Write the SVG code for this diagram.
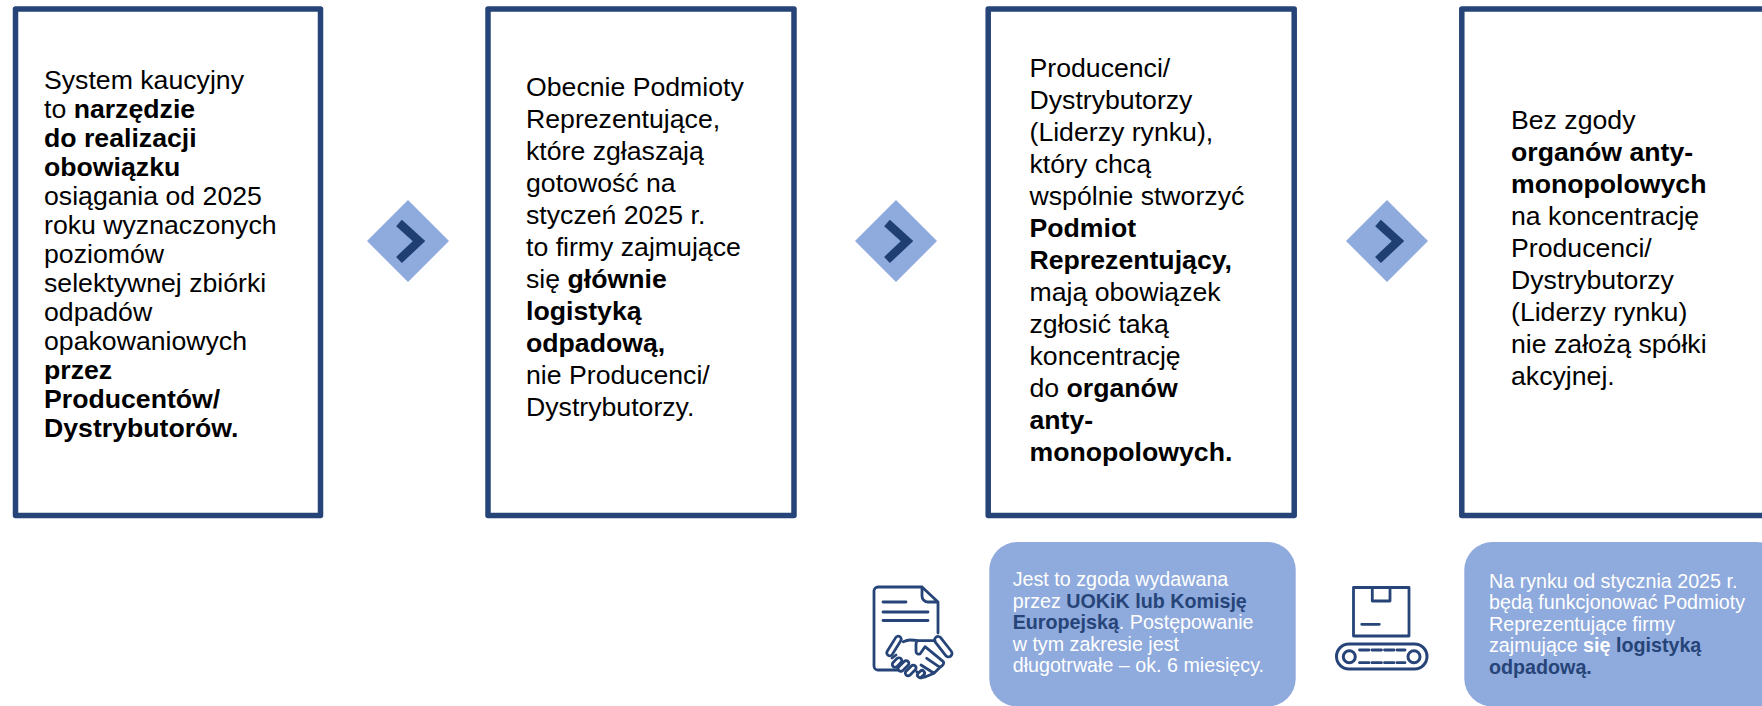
<svg xmlns="http://www.w3.org/2000/svg" width="1762" height="706" viewBox="0 0 1762 706">
<style>
text{font-family:"Liberation Sans",Arial,sans-serif}
.box{fill:#fff;stroke:#264478;stroke-width:5.5;stroke-linejoin:round}
.t{font-size:26.67px;fill:#000}
.b{font-weight:700}
.call{fill:#8faadc}
.c{font-size:19.7px;fill:#fff}
.d{font-weight:700;fill:#264478}
.dia{fill:#8faadc}
.chev{fill:none;stroke:#1f3f73;stroke-width:8.5}
.ic{fill:none;stroke:#264478;stroke-width:2.8;stroke-linecap:round;stroke-linejoin:round}
.icw{fill:#fff;stroke:#264478;stroke-width:2.8;stroke-linecap:round;stroke-linejoin:round}
</style>
<rect width="1762" height="706" fill="#fff"/>
<g id="connectors">
<path class="dia" d="M408 200L449 241L408 282L367 241Z"/><path class="chev" d="M399 223L419 241L399 260"/>
<path class="dia" d="M896 200L937 241L896 282L855 241Z"/><path class="chev" d="M887 223L907 241L887 260"/>
<path class="dia" d="M1387 200L1428 241L1387 282L1346 241Z"/><path class="chev" d="M1378 223L1398 241L1378 260"/>
</g>
<g id="node-1">
<rect class="box" x="15.5" y="9" width="305" height="506.5"/>
<text class="t" y="89"><tspan x="44">System kaucyjny</tspan><tspan x="44" dy="29">to <tspan class="b">narzędzie</tspan></tspan><tspan x="44" dy="29" class="b">do realizacji</tspan><tspan x="44" dy="29" class="b">obowiązku</tspan><tspan x="44" dy="29">osiągania od 2025</tspan><tspan x="44" dy="29">roku wyznaczonych</tspan><tspan x="44" dy="29">poziomów</tspan><tspan x="44" dy="29">selektywnej zbiórki</tspan><tspan x="44" dy="29">odpadów</tspan><tspan x="44" dy="29">opakowaniowych</tspan><tspan x="44" dy="29" class="b">przez</tspan><tspan x="44" dy="29" class="b">Producentów/</tspan><tspan x="44" dy="29" class="b">Dystrybutorów.</tspan></text>
</g>
<g id="node-2">
<rect class="box" x="488" y="9" width="306" height="506.5"/>
<text class="t" y="96"><tspan x="526">Obecnie Podmioty</tspan><tspan x="526" dy="32">Reprezentujące,</tspan><tspan x="526" dy="32">które zgłaszają</tspan><tspan x="526" dy="32">gotowość na</tspan><tspan x="526" dy="32">styczeń 2025 r.</tspan><tspan x="526" dy="32">to firmy zajmujące</tspan><tspan x="526" dy="32">się <tspan class="b">głównie</tspan></tspan><tspan x="526" dy="32" class="b">logistyką</tspan><tspan x="526" dy="32" class="b">odpadową,</tspan><tspan x="526" dy="32">nie Producenci/</tspan><tspan x="526" dy="32">Dystrybutorzy.</tspan></text>
</g>
<g id="node-3">
<rect class="box" x="988.2" y="9" width="306" height="506.5"/>
<text class="t" y="77"><tspan x="1029.500">Producenci/</tspan><tspan x="1029.500" dy="32">Dystrybutorzy</tspan><tspan x="1029.500" dy="32">(Liderzy rynku),</tspan><tspan x="1029.500" dy="32">który chcą</tspan><tspan x="1029.500" dy="32">wspólnie stworzyć</tspan><tspan x="1029.500" dy="32" class="b">Podmiot</tspan><tspan x="1029.500" dy="32" class="b">Reprezentujący,</tspan><tspan x="1029.500" dy="32">mają obowiązek</tspan><tspan x="1029.500" dy="32">zgłosić taką</tspan><tspan x="1029.500" dy="32">koncentrację</tspan><tspan x="1029.500" dy="32">do <tspan class="b">organów</tspan></tspan><tspan x="1029.500" dy="32" class="b">anty-</tspan><tspan x="1029.500" dy="32" class="b">monopolowych.</tspan></text>
</g>
<g id="node-4">
<rect class="box" x="1461.8" y="9" width="320" height="506.5"/>
<text class="t" y="129"><tspan x="1511">Bez zgody</tspan><tspan x="1511" dy="32" class="b">organów anty-</tspan><tspan x="1511" dy="32" class="b">monopolowych</tspan><tspan x="1511" dy="32">na koncentrację</tspan><tspan x="1511" dy="32">Producenci/</tspan><tspan x="1511" dy="32">Dystrybutorzy</tspan><tspan x="1511" dy="32">(Liderzy rynku)</tspan><tspan x="1511" dy="32">nie założą spółki</tspan><tspan x="1511" dy="32">akcyjnej.</tspan></text>
</g>
<g id="callout-3">
<rect class="call" x="989.3" y="542" width="306.4" height="164.500" rx="28"/>
<text class="c" y="586"><tspan x="1012.7">Jest to zgoda wydawana</tspan><tspan x="1012.7" dy="21.5">przez <tspan class="d">UOKiK lub Komisję</tspan></tspan><tspan x="1012.7" dy="21.5"><tspan class="d">Europejską</tspan>. Postępowanie</tspan><tspan x="1012.7" dy="21.5">w tym zakresie jest</tspan><tspan x="1012.7" dy="21.5">długotrwałe – ok. 6 miesięcy.</tspan></text>
</g>
<g id="callout-4">
<rect class="call" x="1464.3" y="542" width="320" height="164.500" rx="28"/>
<text class="c" y="587.5"><tspan x="1489">Na rynku od stycznia 2025 r.</tspan><tspan x="1489" dy="21.5">będą funkcjonować Podmioty</tspan><tspan x="1489" dy="21.5">Reprezentujące firmy</tspan><tspan x="1489" dy="21.5">zajmujące <tspan class="b">się</tspan> <tspan class="d">logistyką</tspan></tspan><tspan x="1489" dy="21.5" class="d">odpadową.</tspan></text>
</g>
<g id="icon-document">
<path class="ic" d="M938 633V602L922 587H878a4 4 0 0 0-4 4V666a4 4 0 0 0 4 4H900M922 587v9a6 6 0 0 0 6 6h10M883 602H906M883 612H928M883 620.500H928"/>
<path fill="#fff" d="M903 641L935 640L944 662L925 677L905 672L893 660Z"/>
<rect class="icw" x="-3" y="-11" width="6" height="22" rx="3" transform="translate(894 646) rotate(32)"/>
<rect class="icw" x="-3.500" y="-12" width="7" height="24" rx="3.500" transform="translate(943.300 646.700) rotate(-38)"/>
<path class="ic" d="M903.300 641.700Q907 640 910 640Q914 640 918.300 640.700H935M918 640.700Q916 641 916 645V651Q916 655 920 654L925 646.700L943.300 661.700Q945 664 940 667.300L934 673.300L925 677L921 678M926.700 658.300L940 667.300M921 665L934 673.300M916.700 671.700L925 677M892 658L896 655"/>
<rect class="icw" x="-2.800" y="-5.500" width="5.600" height="11" rx="2.800" transform="translate(897 662.500) rotate(45)"/>
<rect class="icw" x="-2.800" y="-6.500" width="5.600" height="13" rx="2.800" transform="translate(903.500 666) rotate(45)"/>
<rect class="icw" x="-2.800" y="-6.500" width="5.600" height="13" rx="2.800" transform="translate(910.700 670.500) rotate(45)"/>
<rect class="icw" x="-2.500" y="-4" width="5" height="8" rx="2.500" transform="translate(921 674) rotate(45)"/>
</g>
<g id="icon-conveyor">
<path class="ic" stroke-linecap="butt" d="M1353.500 587.500H1409V636H1353.500ZM1372.300 587.500V601H1390V587.500M1361.700 624.300H1379.300"/>
<rect class="ic" style="stroke-width:3" x="1336.500" y="644" width="90.500" height="25" rx="12.500"/>
<circle class="ic" style="stroke-width:3" cx="1349.300" cy="656.700" r="6"/>
<circle class="ic" style="stroke-width:3" cx="1414" cy="656.700" r="6"/>
<path class="ic" stroke-linecap="butt" stroke-dasharray="9.500 3" d="M1359.500 650H1405M1359.500 662.700H1405"/>
</g>
</svg>
